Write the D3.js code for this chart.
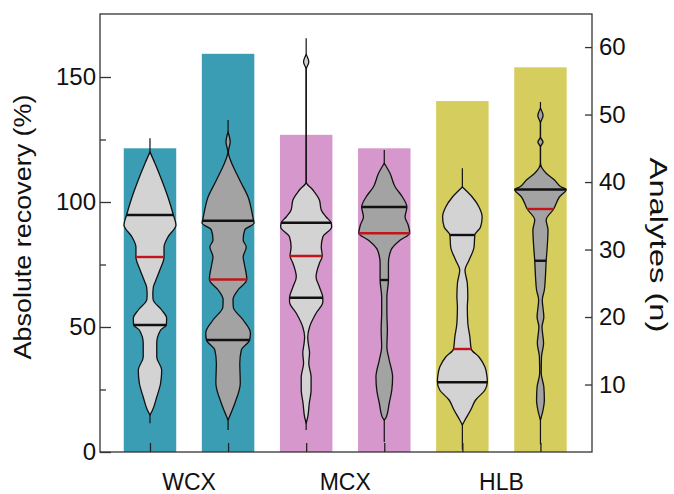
<!DOCTYPE html>
<html>
<head>
<meta charset="utf-8">
<script src="https://cdn.jsdelivr.net/npm/d3@7/dist/d3.min.js"></script>
<style>
  html, body { margin: 0; padding: 0; background: #fff; }
  svg { display: block; }
  text { font-family: "Liberation Sans", Arial, Helvetica, sans-serif; fill: #111; }
</style>
</head>
<body>
<svg id="chart" width="674" height="494"></svg>
<script>
// ---------------- data ----------------
const groups = ["WCX", "MCX", "HLB"];
const groupColors = ["#3b9db4", "#d698cc", "#d6cd5f"];
const positions = [1, 2, 3, 4, 5, 6];
const analyteCounts = [45, 59, 47, 45, 52, 57];          // bars, right axis (n)
const violinFills = ["#d3d3d3", "#a3a3a3", "#d3d3d3", "#a3a3a3", "#d3d3d3", "#a3a3a3"];

// summary statistics of absolute recovery (%)
const minValues    = [11.5, 8.8, 8.8, 4.0, 1.0, 3.0];
const maxValues    = [125.5, 132.8, 165.5, 120.8, 113.5, 140.0];
const q3Values     = [94.8, 92.5, 91.7, 98.0, 86.8, 105.0];
const medianValues = [78.0, 69.0, 78.4, 87.5, 41.2, 97.2];
const q1Values     = [50.8, 44.8, 61.7, 68.8, 27.9, 76.5];

// density profiles: [recovery (%), relative density]
const wcx1Profile = [[120,0],[115.5,0.19],[108.8,0.45],[102,0.69],[94.8,0.9],[90.8,1.0],[86,0.69],[82,0.54],[78,0.54],[72.8,0.38],[68,0.2],[66,0.13],[63,0.11],[61,0.12],[56.8,0.45],[53.6,0.64],[50.8,0.63],[48.8,0.41],[43.5,0.26],[38,0.26],[32.8,0.45],[27.6,0.41],[22,0.26],[16.8,0.1],[14.8,0]];
const wcx2Profile = [[128,0],[124,0.08],[120,0.01],[116,0.12],[112.8,0.26],[107.5,0.51],[102,0.77],[96.8,0.9],[93.6,0.96],[91.6,1.0],[88.8,0.64],[84.8,0.58],[82,0.7],[78,0.58],[75.5,0.62],[69,0.72],[64.8,0.38],[61,0.19],[58,0.2],[52.8,0.58],[47.6,0.86],[44.8,0.83],[40.8,0.51],[35.5,0.45],[27.6,0.47],[19.5,0.26],[12.8,0]];
const mcx1Profile = [[159,0],[156,0.1],[153,0],[108,0],[104.8,0.26],[100.8,0.51],[96.8,0.58],[94,0.77],[91.7,0.96],[90,0.98],[86,0.64],[82,0.58],[78.4,0.62],[75.5,0.51],[70,0.38],[66,0.51],[61.7,0.64],[60,0.64],[55.5,0.38],[50,0.13],[46,0.06],[43.5,0.08],[39.6,0.13],[35.5,0.1],[30,0.19],[24.8,0.19],[19.5,0.12],[14,0.06],[11.5,0]];
const mcx2Profile = [[115.5,0],[111.5,0.22],[106,0.42],[102,0.7],[98,0.87],[94,0.8],[90.8,0.92],[87.5,0.98],[84.8,0.62],[80.8,0.26],[75.5,0.16],[68.8,0.16],[62,0.1],[55.5,0.1],[48.8,0.12],[42,0.1],[36.8,0.19],[30,0.32],[24.8,0.29],[19.5,0.19],[14,0.08],[12.8,0]];
const hlb1Profile = [[106,0],[102,0.38],[98,0.64],[94,0.76],[90,0.7],[86.8,0.48],[82,0.45],[76.8,0.26],[72.8,0.1],[67.5,0.19],[62,0.21],[58,0.19],[51.5,0.21],[46,0.29],[41.2,0.34],[38,0.64],[34,0.87],[30,0.95],[27.9,0.96],[24.8,0.87],[20.8,0.51],[16.8,0.32],[12.8,0.1],[10.8,0]];
const hlb2Profile = [[137.5,0],[134.5,0.1],[131.5,0],[126,0],[124,0.1],[122,0],[115.5,0],[111.5,0.22],[108.8,0.54],[106,0.8],[105,0.99],[102,0.73],[97.2,0.51],[92.8,0.22],[88.8,0.29],[82,0.26],[76.5,0.22],[70,0.19],[64.8,0.15],[60.8,0.07],[54,0.13],[50,0.06],[43.5,0.12],[38,0.04],[31.5,0.03],[26,0.13],[20.8,0.15],[16.8,0.1],[12.8,0]];
const profiles = [wcx1Profile, wcx2Profile, mcx1Profile, mcx2Profile, hlb1Profile, hlb2Profile];

const leftTicks = [0, 50, 100, 150];
const leftMinorTicks = [25, 75, 125];
const rightTicks = [10, 20, 30, 40, 50, 60];

// ---------------- layout ----------------
const L = 100, R = 592, T = 14, B = 452;
const svg = d3.select("#chart");

const x = d3.scaleLinear().domain([0.36, 6.66]).range([L, R]);
const yL = d3.scaleLinear().domain([0, 175.2]).range([B, T]);
const yR = d3.scaleLinear().domain([0, 64.9]).range([B, T]);
const barW = x(1.672) - x(1);
const wScale = d3.scaleLinear().domain([0, 1]).range([0, 26]);

// bars
svg.append("g").selectAll("rect")
  .data(positions)
  .join("rect")
  .attr("x", (p) => x(p) - barW / 2)
  .attr("width", barW)
  .attr("y", (p, i) => yR(analyteCounts[i]))
  .attr("height", (p, i) => yR(0) - yR(analyteCounts[i]))
  .attr("fill", (p, i) => groupColors[Math.floor(i / 2)]);

// helper: interpolate width at value
function widthAt(profile, v) {
  for (let k = 0; k < profile.length - 1; k++) {
    const a = profile[k], b = profile[k + 1];
    if (v <= a[0] && v >= b[0]) {
      const t = (a[0] - v) / (a[0] - b[0] || 1);
      return a[1] + t * (b[1] - a[1]);
    }
  }
  return 0;
}

const vg = svg.append("g");
positions.forEach((p, i) => {
  const cx = x(p);
  const g = vg.append("g");
  // whisker
  g.append("line")
    .attr("x1", cx).attr("x2", cx)
    .attr("y1", yL(maxValues[i])).attr("y2", yL(minValues[i]))
    .attr("stroke", "#111").attr("stroke-width", 1.2);
  // violin
  const area = d3.area()
    .y((d) => yL(d[0]))
    .x0((d) => cx - wScale(d[1]))
    .x1((d) => cx + wScale(d[1]))
    .curve(d3.curveMonotoneY);
  const prof = profiles[i].slice().sort((a, b) => b[0] - a[0]);
  g.append("path")
    .attr("d", area(prof))
    .attr("fill", violinFills[i])
    .attr("stroke", "#111")
    .attr("stroke-width", 1.3)
    .attr("stroke-linejoin", "round");
  // quartile & median lines
  const stats = [[q3Values[i], "#111"], [q1Values[i], "#111"], [medianValues[i], "#c0161b"]];
  stats.forEach(([v, col]) => {
    const hw = wScale(widthAt(prof, v));
    g.append("line")
      .attr("x1", cx - hw).attr("x2", cx + hw)
      .attr("y1", yL(v)).attr("y2", yL(v))
      .attr("stroke", col).attr("stroke-width", 2.4);
  });
});

// frame
const axisCol = "#333";
svg.append("rect").attr("x", L).attr("y", T).attr("width", R - L).attr("height", B - T)
  .attr("fill", "none").attr("stroke", axisCol).attr("stroke-width", 1.3);

// left axis
const leftAxis = d3.axisLeft(yL).tickValues(leftTicks).tickSize(-11).tickPadding(16).tickFormat(d3.format("d"));
const gl = svg.append("g").attr("transform", `translate(${L},0)`).call(leftAxis);
gl.select(".domain").remove();
gl.selectAll(".tick line").attr("stroke", axisCol).attr("stroke-width", 1.3);
gl.selectAll(".tick text").attr("font-size", 24).attr("fill", "#111").attr("x", -4)
  .style("font-family", '"Liberation Sans", Arial, sans-serif');
const leftMinor = d3.axisLeft(yL).tickValues(leftMinorTicks).tickSize(-6).tickFormat("");
const glm = svg.append("g").attr("transform", `translate(${L},0)`).call(leftMinor);
glm.select(".domain").remove();
glm.selectAll(".tick line").attr("stroke", axisCol).attr("stroke-width", 1.3);

// right axis
const rightAxis = d3.axisRight(yR).tickValues(rightTicks).tickSize(-7).tickPadding(14).tickFormat(d3.format("d"));
const gr = svg.append("g").attr("transform", `translate(${R},0)`).call(rightAxis);
gr.select(".domain").remove();
gr.selectAll(".tick line").attr("stroke", axisCol).attr("stroke-width", 1.3);
gr.selectAll(".tick text").attr("font-size", 24).attr("fill", "#111").attr("x", 7)
  .style("font-family", '"Liberation Sans", Arial, sans-serif');

// bottom axis ticks (inward) at each position
const bottomAxis = d3.axisBottom(x).tickValues(positions).tickSize(-9).tickFormat("");
const gb = svg.append("g").attr("transform", `translate(0,${B})`).call(bottomAxis);
gb.select(".domain").remove();
gb.selectAll(".tick line").attr("stroke", "#222").attr("stroke-width", 1.3);

// group labels
svg.append("g").selectAll("text")
  .data(groups)
  .join("text")
  .attr("x", (g, i) => x(2 * i + 1.5))
  .attr("y", 490)
  .attr("text-anchor", "middle")
  .attr("font-size", 23)
  .text((g) => g);

// axis titles
svg.append("text")
  .attr("transform", `translate(31,227) rotate(-90)`)
  .attr("text-anchor", "middle")
  .attr("font-size", 23)
  .attr("textLength", 265)
  .attr("lengthAdjust", "spacingAndGlyphs")
  .text("Absolute recovery (%)");

svg.append("text")
  .attr("transform", `translate(650,245) rotate(90)`)
  .attr("text-anchor", "middle")
  .attr("font-size", 23)
  .attr("textLength", 175)
  .attr("lengthAdjust", "spacingAndGlyphs")
  .text("Analytes (n)");
</script>
</body>
</html>
